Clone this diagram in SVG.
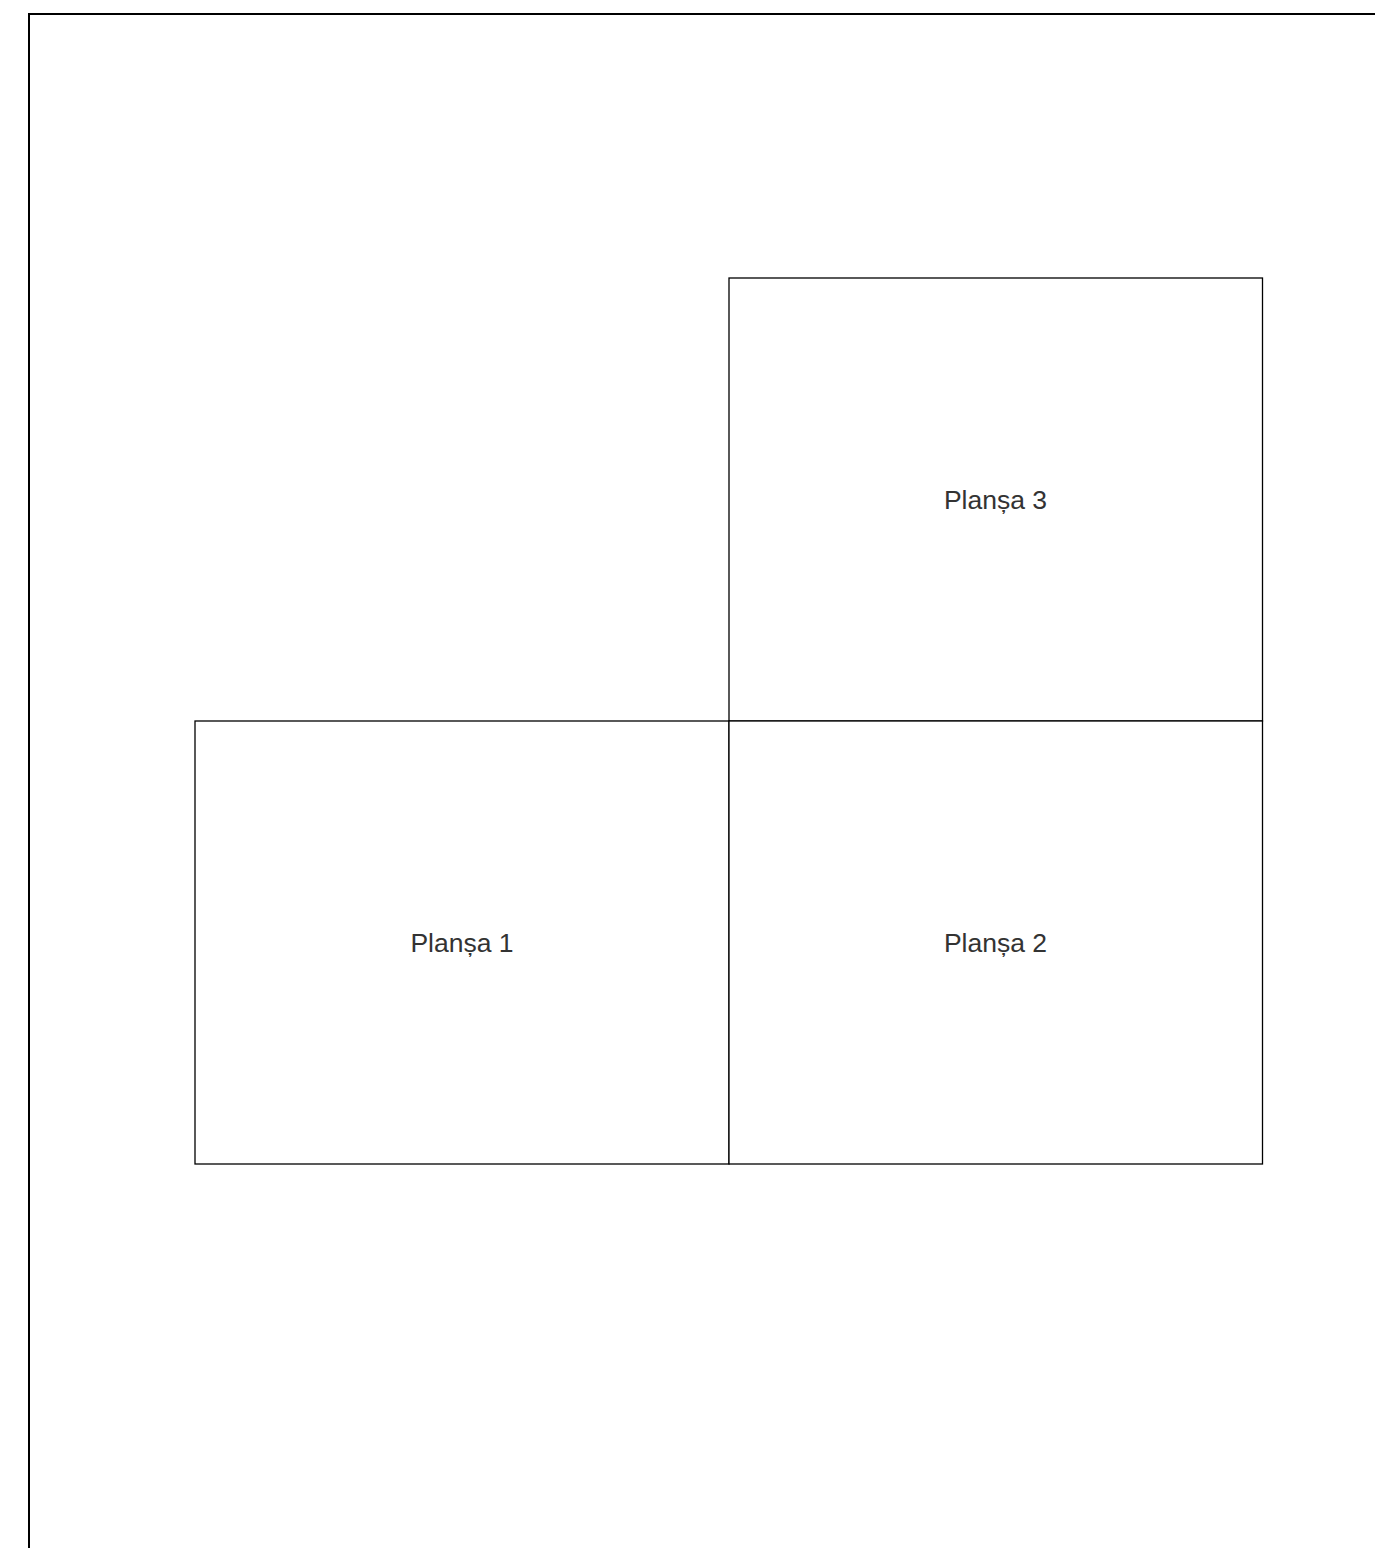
<svg xmlns="http://www.w3.org/2000/svg" width="1375" height="1548" viewBox="0 0 1375 1548">
<style>
.frame{fill:none;stroke:#000;stroke-width:2}
.sheet{fill:#fff;stroke:#000;stroke-width:1.3}
.lbl{font-family:"Liberation Sans",Arial,sans-serif;font-size:26.5px;fill:#333;text-anchor:middle}
</style>
<rect width="1375" height="1548" fill="#fff"/>
<rect class="frame" x="29" y="14" width="1400" height="1600"/>
<g id="plansa3"><rect class="sheet" x="729" y="278" width="533.5" height="443"/><text class="lbl" x="995.5" y="509">Planșa 3</text></g>
<g id="plansa1"><rect class="sheet" x="195" y="721" width="534" height="443"/><text class="lbl" x="462" y="952">Planșa 1</text></g>
<g id="plansa2"><rect class="sheet" x="729" y="721" width="533.5" height="443"/><text class="lbl" x="995.5" y="952">Planșa 2</text></g>
<g id="connectors"/>
</svg>
